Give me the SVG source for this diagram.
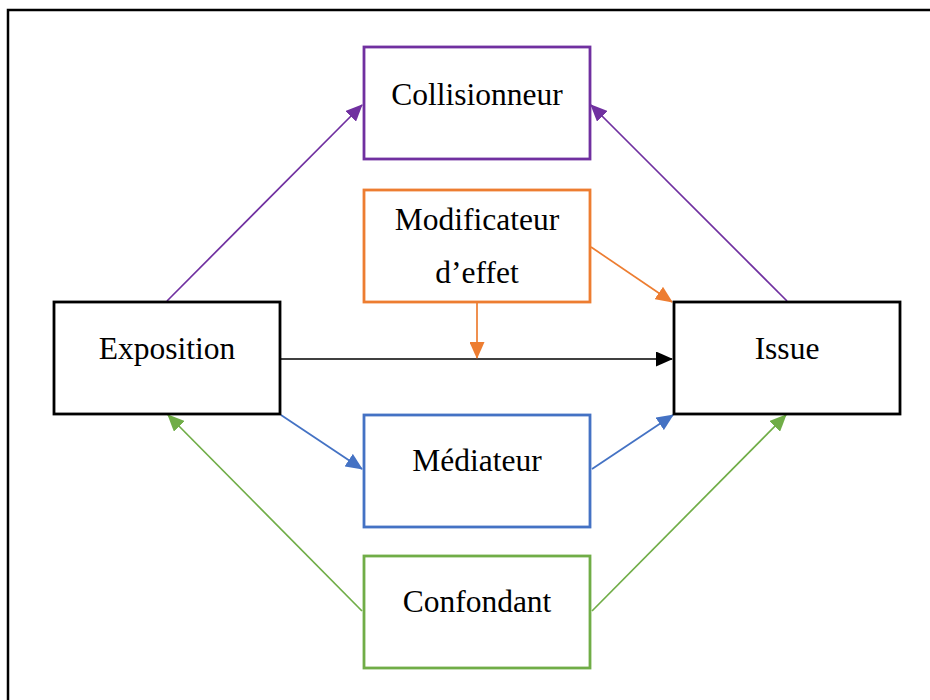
<svg xmlns="http://www.w3.org/2000/svg" width="930" height="700" viewBox="0 0 930 700">
<style>
.box{fill:#fff;stroke-width:2.8}
.lbl{font-family:"Liberation Serif","Times New Roman",serif;font-size:31.5px;fill:#000;text-anchor:middle}
.ln{fill:none;stroke-width:1.7}
</style>
<defs>
<marker id="ak" markerUnits="userSpaceOnUse" markerWidth="17" markerHeight="15" refX="16" refY="7.5" orient="auto"><path d="M0,0 L17,7.5 L0,15 z" fill="#000"/></marker>
<marker id="ap" markerUnits="userSpaceOnUse" markerWidth="17" markerHeight="15" refX="16" refY="7.5" orient="auto"><path d="M0,0 L17,7.5 L0,15 z" fill="#7030A0"/></marker>
<marker id="ao" markerUnits="userSpaceOnUse" markerWidth="17" markerHeight="15" refX="16" refY="7.5" orient="auto"><path d="M0,0 L17,7.5 L0,15 z" fill="#ED7D31"/></marker>
<marker id="ab" markerUnits="userSpaceOnUse" markerWidth="17" markerHeight="15" refX="16" refY="7.5" orient="auto"><path d="M0,0 L17,7.5 L0,15 z" fill="#4472C4"/></marker>
<marker id="ag" markerUnits="userSpaceOnUse" markerWidth="17" markerHeight="15" refX="16" refY="7.5" orient="auto"><path d="M0,0 L17,7.5 L0,15 z" fill="#70AD47"/></marker>
</defs>
<rect width="930" height="700" fill="#fff"/>
<rect x="8" y="10" width="1000" height="1000" fill="none" stroke="#000" stroke-width="2.5"/>
<g id="connectors">
<line class="ln" x1="281" y1="359" x2="672" y2="359" stroke="#000" marker-end="url(#ak)"/>
<line class="ln" x1="167" y1="301" x2="362" y2="105" stroke="#7030A0" marker-end="url(#ap)"/>
<line class="ln" x1="787" y1="301" x2="591" y2="105" stroke="#7030A0" marker-end="url(#ap)"/>
<line class="ln" x1="477" y1="303" x2="477" y2="358" stroke="#ED7D31" marker-end="url(#ao)"/>
<line class="ln" x1="591" y1="247" x2="672" y2="302" stroke="#ED7D31" marker-end="url(#ao)"/>
<line class="ln" x1="281" y1="415" x2="362" y2="469" stroke="#4472C4" marker-end="url(#ab)"/>
<line class="ln" x1="592" y1="469" x2="673" y2="415" stroke="#4472C4" marker-end="url(#ab)"/>
<line class="ln" x1="362" y1="611" x2="168" y2="415" stroke="#70AD47" marker-end="url(#ag)"/>
<line class="ln" x1="592" y1="611" x2="786" y2="415" stroke="#70AD47" marker-end="url(#ag)"/>
</g>
<g id="collisionneur"><rect class="box" x="364" y="47" width="226" height="112" stroke="#7030A0"/><text class="lbl" x="477" y="105">Collisionneur</text></g>
<g id="modificateur"><rect class="box" x="364" y="190" width="226" height="112" stroke="#ED7D31"/><text class="lbl" x="477" y="230">Modificateur</text><text class="lbl" x="477" y="283">d’effet</text></g>
<g id="exposition"><rect class="box" x="54" y="302" width="226" height="112" stroke="#000"/><text class="lbl" x="167" y="359">Exposition</text></g>
<g id="issue"><rect class="box" x="674" y="302" width="226" height="112" stroke="#000"/><text class="lbl" x="787" y="359">Issue</text></g>
<g id="mediateur"><rect class="box" x="364" y="415" width="226" height="112" stroke="#4472C4"/><text class="lbl" x="477" y="471">Médiateur</text></g>
<g id="confondant"><rect class="box" x="364" y="556" width="226" height="112" stroke="#70AD47"/><text class="lbl" x="477" y="612">Confondant</text></g>
</svg>
